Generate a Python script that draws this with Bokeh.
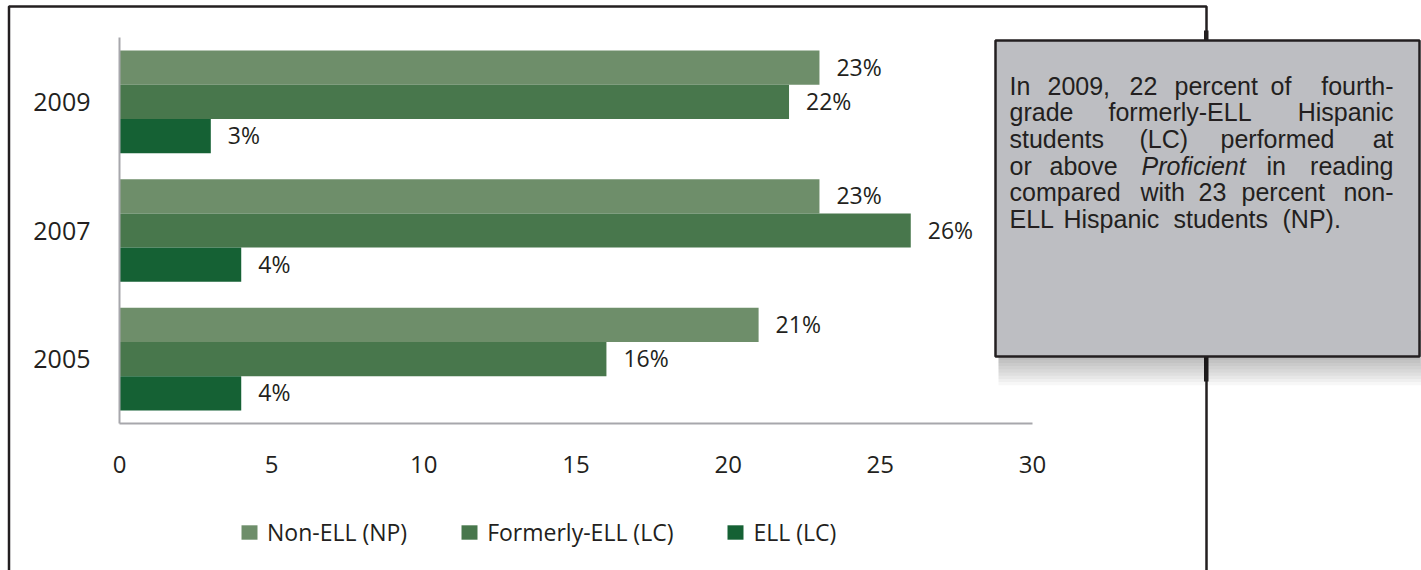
from bokeh.plotting import figure
from bokeh.models import (ColumnDataSource, Range1d, FixedTicker,
                          Legend, LegendItem, BoxAnnotation, Label)
from bokeh.transform import dodge
from bokeh.core.properties import value
from bokeh.embed import file_html
from bokeh.resources import INLINE

# ---------------- data ----------------
years = ["2005", "2007", "2009"]
non_ell = [21, 23, 23]
formerly_ell = [16, 26, 22]
ell = [4, 4, 3]
series_names = ["Non-ELL (NP)", "Formerly-ELL (LC)", "ELL (LC)"]
x_ticks = [0, 5, 10, 15, 20, 25, 30]
colors = ["#6E8E6A", "#48774C", "#156134"]

note_lines = [
    ["In", "2009,", "22", "percent", "of", "fourth-"],
    ["grade", "formerly-ELL", "Hispanic"],
    ["students", "(LC)", "performed", "at"],
    ["or", "above", "Proficient", "in", "reading"],
    ["compared", "with", "23", "percent", "non-"],
    ["ELL", "Hispanic", "students", "(NP)."],
]

# ---------------- layout ----------------
W, H = 1421, 570
AX_LEFT_PX, AX_RIGHT_PX = 119, 1032     # x = 0 and x = 30
AX_TOP_PX, AX_BOTTOM_PX = 37, 423       # top / bottom of the category band
X_MAX = 30
px_per_x = (AX_RIGHT_PX - AX_LEFT_PX) / X_MAX
n_cat = len(years)
px_per_cat = (AX_BOTTOM_PX - AX_TOP_PX) / n_cat

TEXT_COLOR = "#231f20"
CHART_FONT = "Open Sans"


def sx(px):          # page px -> frame screen units (frame = whole canvas)
    return px


def sy(py):
    return H - py


def screen_box(left, right, top, bottom, **kw):
    return BoxAnnotation(left=sx(left), right=sx(right), top=sy(top), bottom=sy(bottom),
                         left_units="screen", right_units="screen",
                         top_units="screen", bottom_units="screen", **kw)


cat_pos = [i + 0.5 for i in range(n_cat)]

src = ColumnDataSource(dict(
    pos=cat_pos,
    np=non_ell, flc=formerly_ell, ell=ell,
    np_lab=[f"{v}%" for v in non_ell],
    flc_lab=[f"{v}%" for v in formerly_ell],
    ell_lab=[f"{v}%" for v in ell],
))

p = figure(width=W, height=H,
           x_range=Range1d(-AX_LEFT_PX / px_per_x, (W - AX_LEFT_PX) / px_per_x),
           y_range=Range1d(-(H - AX_BOTTOM_PX) / px_per_cat, n_cat + AX_TOP_PX / px_per_cat),
           output_backend="svg", toolbar_location=None,
           min_border=0, min_border_left=0, min_border_right=0,
           min_border_top=0, min_border_bottom=0)

p.background_fill_color = "white"
p.border_fill_color = "white"
p.outline_line_color = None
p.xgrid.visible = False
p.ygrid.visible = False

# outer frame (drawn first so the note box covers it)
p.add_layout(screen_box(8.5, 1206, 6, 640, fill_alpha=0, line_color=TEXT_COLOR,
                        line_alpha=1, line_width=2.5, level="underlay"))

bar_h = 0.266
offsets = [bar_h, 0.0, -bar_h]
keys = ["np", "flc", "ell"]

renderers = []
for key, off, color in zip(keys, offsets, colors):
    r = p.hbar(y=dodge("pos", off), left=0, right=key,
               height=bar_h, fill_color=color, line_color=None, source=src)
    renderers.append(r)
    p.text(x=key, y=dodge("pos", off), text=key + "_lab",
           x_offset=17, y_offset=-1, text_baseline="middle", text_align="left",
           text_font=value(CHART_FONT), text_font_size="23px",
           text_color=TEXT_COLOR, source=src)

# axes drawn at fixed data locations inside the frame
xa = p.xaxis[0]
xa.fixed_location = 0
xa.bounds = (0, X_MAX)
xa.ticker = FixedTicker(ticks=x_ticks)
xa.axis_line_color = "#A7A7AC"
xa.axis_line_width = 2
xa.major_tick_line_color = None
xa.minor_tick_line_color = None
xa.major_tick_out = 0
xa.major_tick_in = 0
xa.major_label_standoff = 32
xa.major_label_text_font = CHART_FONT
xa.major_label_text_font_size = "24px"
xa.major_label_text_color = TEXT_COLOR

ya = p.yaxis[0]
ya.fixed_location = 0
ya.bounds = (0, n_cat)
ya.ticker = FixedTicker(ticks=cat_pos)
ya.major_label_overrides = {pos: yr for pos, yr in zip(cat_pos, years)}
ya.axis_line_color = "#A7A7AC"
ya.axis_line_width = 2
ya.major_tick_line_color = None
ya.minor_tick_line_color = None
ya.major_tick_out = 0
ya.major_tick_in = 0
ya.major_label_standoff = 29
ya.major_label_text_font = CHART_FONT
ya.major_label_text_font_size = "25px"
ya.major_label_text_color = TEXT_COLOR

# legend
legend = Legend(
    items=[LegendItem(label=n, renderers=[r]) for n, r in zip(series_names, renderers)],
    orientation="horizontal", location=(sx(239), sy(548)),
    glyph_width=20, glyph_height=18, label_standoff=8, spacing=52,
    padding=0, margin=0, border_line_color=None, background_fill_alpha=0,
    label_text_font=CHART_FONT, label_text_font_size="23px",
    label_text_color=TEXT_COLOR,
)
p.add_layout(legend)

# thick bits of the frame line next to the note box
for top_px, bot_px in [(30, 40), (356, 381)]:
    p.add_layout(screen_box(1203.5, 1208, top_px, bot_px,
                            fill_color=TEXT_COLOR, fill_alpha=1, line_alpha=0))

# note box shadow
for i in range(1, 10):
    p.add_layout(screen_box(998, 1419 + i * 0.4, 330, 356 + i * 3.2,
                            fill_color="black", fill_alpha=0.032, line_alpha=0))

# note box
p.add_layout(screen_box(995, 1419, 40, 356, fill_color="#BDBEC2", fill_alpha=1,
                        line_color=TEXT_COLOR, line_alpha=1, line_width=2.5))

# note text (justified: words placed individually)
word_left_px = [
    [1009, 1047, 1129, 1174, 1270, None],
    [1009, 1108, None],
    [1009, 1139, 1220, None],
    [1009, 1049, 1141, 1266, None],
    [1009, 1140, 1198, 1241, None],
    [1009, 1063, 1173, 1282],
]
RIGHT_EDGE_PX = 1393
BASE0 = 85
LINE_STEP = 26.7
for li, (words, xs) in enumerate(zip(note_lines, word_left_px)):
    base = BASE0 + li * LINE_STEP
    for w, xpx in zip(words, xs):
        if xpx is None:
            x, align = sx(RIGHT_EDGE_PX), "right"
        else:
            x, align = sx(xpx), "left"
        p.add_layout(Label(x=x, y=sy(base), x_units="screen", y_units="screen",
                           text=w, text_align=align, text_baseline="alphabetic",
                           text_font="Liberation Sans", text_font_size="25px",
                           text_font_style="italic" if w == "Proficient" else "normal",
                           text_color=TEXT_COLOR))

open("out.html", "w").write(file_html(p, INLINE))
